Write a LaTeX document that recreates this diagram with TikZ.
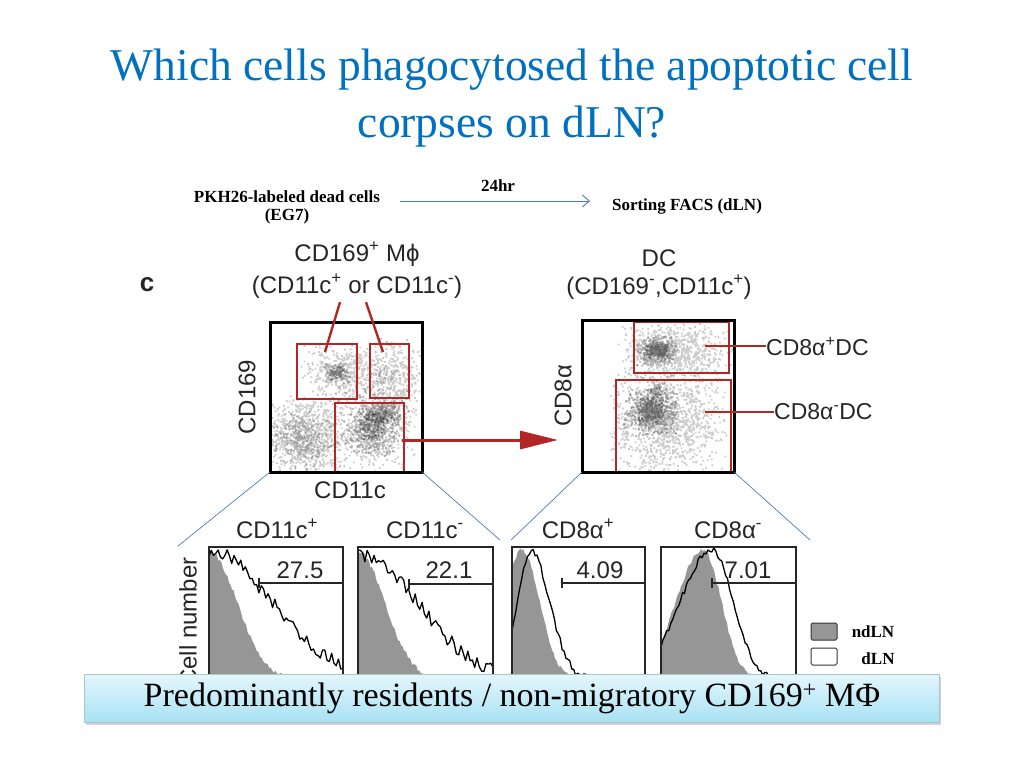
\documentclass[tikz,border=0pt]{standalone}
\usepackage{fontspec}
\setmainfont{Liberation Serif}
\newfontfamily\arialf{Liberation Sans}
\usetikzlibrary{arrows.meta,shadows}
\definecolor{titleblue}{HTML}{0070C0}
\definecolor{linkblue}{HTML}{4A7EBB}
\definecolor{gatered}{RGB}{178,38,38}
\definecolor{histgray}{RGB}{150,150,150}
\definecolor{bantop}{RGB}{228,246,252}
\definecolor{banbot}{RGB}{168,226,244}
% one path per cloud: cx, cy, half-range x, half-range y, count, opacity
\newcommand\mycloud[6]{\fill[black, opacity=#6] \foreach \i in {1,...,#5}{({#1+#3*(rand+rand)/2},{#2+#4*(rand+rand)/2}) rectangle ++(1.8,1.8)};}
\begin{document}
\begin{tikzpicture}[x=1pt,y=-1pt,
  declare function={g(\x,\c,\w)=exp(-1*((\x-\c)/\w)*((\x-\c)/\w));},
  titletext/.style={font=\fontsize{45.5}{50}\selectfont, text=titleblue, inner sep=0pt},
  boldlab/.style={font=\bfseries\fontsize{17}{20}\selectfont, inner sep=0pt},
  sanslab/.style={font=\arialf\fontsize{24}{28}\selectfont, text=black!85, inner sep=0pt},
  sidelab/.style={font=\arialf\fontsize{23}{26}\selectfont, text=black!85, inner sep=0pt},
  numlab/.style={font=\arialf\fontsize{24}{26}\selectfont, text=black!85, inner sep=0pt},
  gate/.style={draw=gatered, line width=2.4pt},
  plotbox/.style={draw=black, line width=3pt},
  histbox/.style={draw=black!85, line width=1.4pt},
  histline/.style={draw=black, line width=1.3pt, line join=round},
  histgate/.style={draw=black!85, line width=1.1pt},
  link/.style={draw=linkblue, line width=0.7pt},
  legbox/.style={draw=black!80, line width=1pt, rounded corners=1.5pt, minimum width=26pt, minimum height=17pt, inner sep=0pt},
  banner/.style={draw=cyan!30!gray!60, line width=0.6pt, top color=bantop, bottom color=banbot,
     minimum width=855pt, minimum height=48pt, font=\fontsize{34}{38}\selectfont,
     drop shadow={shadow xshift=1pt, shadow yshift=-3pt, opacity=0.35}}]
\useasboundingbox (0,0) rectangle (1024,768);
\fill[white] (0,0) rectangle (1024,768);
\pgfmathsetseed{7}

% ---------- title ----------
\node[titletext, anchor=base] (t1) at (512,80) {Which cells phagocytosed the apoptotic cell};
\node[titletext, anchor=base] (t2) at (512,137) {corpses on dLN?};

% ---------- protocol line ----------
\node[boldlab, anchor=base] (pkh) at (287,202) {PKH26-labeled dead cells};
\node[boldlab, anchor=base] (eg7) at (287,220) {(EG7)};
\node[boldlab, anchor=base] (hr) at (498,191) {24hr};
\node[boldlab, anchor=base] (sort) at (687,210) {Sorting FACS (dLN)};
\coordinate (a1) at (400,201);
\coordinate (a2) at (590,201);
\draw[linkblue, line width=0.9pt, -{Straight Barb[length=7pt,width=12pt]}] (a1) -- (a2);

% ---------- header labels ----------
\node[sanslab, anchor=base] (mphi) at (357,261) {CD169\textsuperscript{+} Mϕ};
\node[sanslab, anchor=base] (cdsub) at (357,293) {(CD11c\textsuperscript{+} or CD11c\textsuperscript{-})};
\node[sanslab, anchor=base] (dc) at (659,266) {DC};
\node[sanslab, anchor=base] (dcsub) at (659,294) {(CD169\textsuperscript{-},CD11c\textsuperscript{+})};
\node[sanslab, font=\arialf\bfseries\fontsize{26}{28}\selectfont, anchor=base] (clab) at (147,291) {c};

% ---------- left dot plot ----------
\begin{scope}
\clip (271,323) rectangle (421,471);
\mycloud{305}{435}{44}{42}{800}{0.2}
\mycloud{348}{372}{50}{32}{500}{0.2}
\mycloud{394}{378}{28}{44}{350}{0.2}
\mycloud{372}{428}{44}{44}{600}{0.2}
\mycloud{300}{440}{32}{32}{300}{0.22}
\mycloud{372}{430}{28}{28}{350}{0.25}
\mycloud{336}{372}{14}{12}{120}{0.25}
\mycloud{382}{412}{18}{12}{250}{0.3}
\mycloud{336}{372}{8}{8}{60}{0.3}
\mycloud{372}{425}{15}{15}{150}{0.3}
\end{scope}
\draw[gate] (297,344) rectangle (357,399);
\draw[gate] (370,344) rectangle (409,398);
\draw[gate] (335,403) rectangle (404,472);
\draw[plotbox] (270,322) rectangle (422,472);
\coordinate (g1in) at (325,352);
\coordinate (g2in) at (383,352);
\draw[gate] (cdsub.south) ++(-17,4) coordinate (l1s) -- (g1in);
\draw[gate] (cdsub.south) ++(9,4) coordinate (l2s) -- (g2in);
\coordinate (g3in) at (402,440);
\coordinate (g3tip) at (558,440);
\draw[draw=gatered, line width=3pt, -{Triangle[length=38pt,width=18pt]}] (g3in) -- (g3tip);
\node[sanslab, rotate=90] (yl1) at (247,397) {CD169};
\node[sanslab] (xl1) at (350,490) {CD11c};

% ---------- right dot plot ----------
\begin{scope}
\clip (610,322) rectangle (733,471);
\mycloud{676}{350}{60}{30}{700}{0.2}
\mycloud{665}{420}{64}{58}{1200}{0.2}
\mycloud{656}{350}{22}{16}{400}{0.28}
\mycloud{650}{410}{28}{26}{550}{0.28}
\mycloud{656}{350}{12}{9}{200}{0.32}
\mycloud{650}{410}{15}{14}{300}{0.32}
\mycloud{655}{388}{10}{10}{60}{0.25}
\end{scope}
\draw[gate] (634,322) rectangle (729,373);
\draw[gate] (616,380) rectangle (731,472);
\draw[plotbox] (582,320) rectangle (734,472);
\node[sidelab, anchor=west] (p8) at (766,346) {CD8α\textsuperscript{+}DC};
\node[sidelab, anchor=west] (m8) at (774,412) {CD8α\textsuperscript{-}DC};
\coordinate (p8in) at (705,346);
\coordinate (m8in) at (705,412);
\draw[gate] (p8in) -- (p8.west);
\draw[gate] (m8in) -- (m8.west);
\node[sanslab, rotate=90] (yl2) at (563,396) {CD8α};

% ---------- zoom links ----------
\coordinate (lbl) at (270,472);
\coordinate (lbr) at (422,472);
\coordinate (rbl) at (582,472);
\coordinate (rbr) at (734,472);
\coordinate (h1) at (178,546);
\coordinate (h2) at (500,540);
\coordinate (h3) at (511,540);
\coordinate (h4) at (810,540);
\draw[link] (lbl) -- (h1);
\draw[link] (lbr) -- (h2);
\draw[link] (rbl) -- (h3);
\draw[link] (rbr) -- (h4);

% ---------- histograms ----------
% panel 1
\begin{scope}
\clip (209,547) rectangle (343,700);
\fill[histgray] (209,700) -- plot[domain=209:300,samples=60] (\x,{680-128*g(\x,209,40)+2.5*rand}) -- (300,700) -- cycle;
\draw[histline] plot[domain=209:343,samples=60] (\x,{678-127*g(\x,209,88)+7*rand});
\end{scope}
\draw[histbox] (209,700) -- (209,547) -- (343,547) -- (343,700);
\draw[histgate] (259,583) -- (343,583);
\draw[histgate] (259,578) -- (259,588);
\node[numlab] (n1) at (300,570) {27.5};
\node[sanslab, anchor=base] (ht1) at (277,538) {CD11c\textsuperscript{+}};
% panel 2
\begin{scope}
\clip (358,547) rectangle (493,700);
\fill[histgray] (358,700) -- plot[domain=358:440,samples=60] (\x,{680-128*g(\x,358,38)+2.5*rand}) -- (440,700) -- cycle;
\draw[histline] plot[domain=358:493,samples=60] (\x,{680-125*g(\x,358,85)+7*rand});
\end{scope}
\draw[histbox] (358,700) -- (358,547) -- (493,547) -- (493,700);
\draw[histgate] (409,584) -- (493,584);
\draw[histgate] (409,579) -- (409,589);
\node[numlab] (n2) at (449,570) {22.1};
\node[sanslab, anchor=base] (ht2) at (425,538) {CD11c\textsuperscript{-}};
% panel 3
\begin{scope}
\clip (512,547) rectangle (645,700);
\fill[histgray] (512,700) -- plot[domain=512:580,samples=50] (\x,{680-130*g(\x,522,25)+2.5*rand}) -- (580,700) -- cycle;
\draw[histline] plot[domain=512:645,samples=70] (\x,{680-128*g(\x,531,19+8*(\x>531))+4*rand});
\end{scope}
\draw[histbox] (512,700) -- (512,547) -- (645,547) -- (645,700);
\draw[histgate] (562,583) -- (645,583);
\draw[histgate] (562,578) -- (562,588);
\node[numlab] (n3) at (600,570) {4.09};
\node[sanslab, anchor=base] (ht3) at (578,538) {CD8α\textsuperscript{+}};
% panel 4
\begin{scope}
\clip (661,547) rectangle (796,700);
\fill[histgray] (661,700) -- plot[domain=661:760,samples=70] (\x,{680-130*g(\x,703,38-12*(\x>703))+2.5*rand}) -- (760,700) -- cycle;
\draw[histline] plot[domain=661:796,samples=70] (\x,{680-130*g(\x,712,45-15*(\x>712))+3*rand});
\end{scope}
\draw[histbox] (661,700) -- (661,547) -- (796,547) -- (796,700);
\draw[histgate] (712,583) -- (796,583);
\draw[histgate] (712,578) -- (712,588);
\node[numlab] (n4) at (748,570) {7.01};
\node[sanslab, anchor=base] (ht4) at (728,538) {CD8α\textsuperscript{-}};
\node[sanslab, rotate=90] (celln) at (188,622) {Cell number};

% ---------- legend ----------
\node[legbox, fill=histgray] (lg1) at (824,631.5) {};
\node[legbox, fill=white] (lg2) at (824,656.5) {};
\node[boldlab, anchor=base] (lgt1) at (873,637) {ndLN};
\node[boldlab, anchor=base] (lgt2) at (878,664) {dLN};

% ---------- banner ----------
\node[banner] (ban) at (512,698) {Predominantly residents / non-migratory CD169\textsuperscript{+} MΦ};
\end{tikzpicture}
\end{document}
